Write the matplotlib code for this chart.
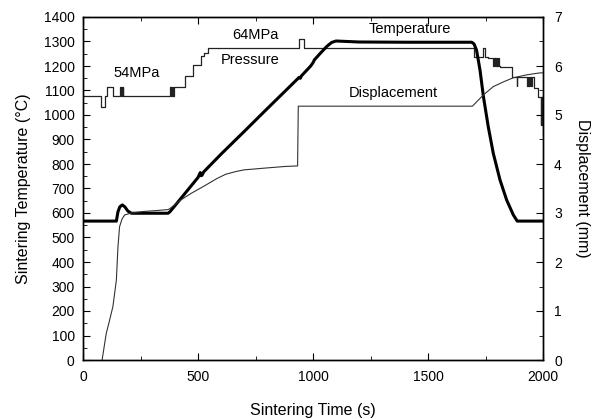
import matplotlib
matplotlib.use("Agg")
import matplotlib.pyplot as plt
from matplotlib.ticker import MultipleLocator

plt.rcParams['font.family'] = ['Liberation Sans', 'DejaVu Sans']

# Temperature (°C) vs time (s)
temp_t = [0, 145, 152, 160, 171, 182, 195, 210, 260, 320, 370, 378, 440, 500, 510, 514, 518, 525,
          600, 700, 800, 900, 940, 945, 950, 990, 1001, 1006, 1030, 1060, 1081, 1100, 1200, 1400, 1600, 1690,
          1700, 1711, 1726, 1741, 1762, 1784, 1813, 1842, 1871, 1888, 2000]
temp_v = [567, 567, 605, 625, 633, 625, 608, 599, 599, 599, 599, 605, 676, 745, 765, 752, 755, 768,
          840, 932, 1025, 1117, 1154, 1150, 1160, 1200, 1215, 1225, 1250, 1280, 1296, 1302, 1298, 1297, 1297, 1297,
          1290, 1265, 1184, 1075, 952, 843, 735, 653, 592, 567, 567]

# Displacement (mm) vs time (s)
disp_t = [83, 101, 115, 130, 145, 152, 159, 170, 181, 210, 260, 320, 370, 378, 420, 470, 523, 581, 620, 668,
          700, 750, 800, 880, 929, 933, 936, 1000, 1200, 1400, 1600, 1693, 1741, 1784, 1830, 1871, 1930, 1987, 2000]
disp_v = [0.0, 0.54, 0.80, 1.09, 1.63, 2.31, 2.72, 2.88, 2.96, 3.00, 3.03, 3.05, 3.07, 3.09, 3.25, 3.40, 3.54,
          3.70, 3.79, 3.85, 3.88, 3.90, 3.92, 3.95, 3.96, 3.96, 5.18, 5.18, 5.18, 5.18, 5.18, 5.18, 5.41, 5.58,
          5.68, 5.76, 5.82, 5.86, 5.86]

# Pressure trace: level (drawn on temperature scale) starting at each time
pres_t = [0, 77, 96, 106, 132, 161, 164, 167, 170, 173, 176, 179,
          378, 381, 384, 387, 390, 393, 397, 445, 480, 512, 525, 545, 940, 962,
          1700, 1720, 1741, 1746, 1762, 1784, 1787, 1790, 1793, 1796, 1799, 1802, 1805, 1808, 1813,
          1864, 1885, 1888, 1930, 1933, 1936, 1939, 1942, 1945, 1948, 1952,
          1960, 1980, 1990, 1992, 1994, 1996, 1998, 2000]
pres_v = [1078, 1034, 1078, 1113, 1078, 1113, 1078, 1113, 1078, 1113, 1078, 1078,
          1113, 1078, 1113, 1078, 1113, 1078, 1113, 1160, 1205, 1240, 1255, 1272, 1309, 1272,
          1238, 1238, 1272, 1238, 1231, 1200, 1231, 1200, 1231, 1200, 1231, 1200, 1231, 1200, 1197,
          1157, 1120, 1157, 1120, 1157, 1120, 1157, 1120, 1157, 1120, 1157,
          1110, 1075, 960, 1075, 960, 1075, 920, 920]

fig = plt.figure(figsize=(5.98, 4.19), dpi=100)
ax = fig.add_axes([83/598, 1 - 360/419, (543-83)/598, (360-17)/419])
ax2 = ax.twinx()

ax.plot(pres_t, pres_v, color='#222222', lw=0.9, drawstyle='steps-post')
ax.plot(temp_t, temp_v, color='black', lw=2.2, solid_joinstyle='round')
ax2.plot(disp_t, disp_v, color='#333333', lw=0.8)

ax.set_xlim(0, 2000)
ax.set_ylim(0, 1400)
ax2.set_ylim(0, 7)

ax.xaxis.set_major_locator(MultipleLocator(500))
ax.xaxis.set_minor_locator(MultipleLocator(250))
ax.yaxis.set_major_locator(MultipleLocator(100))
ax.yaxis.set_minor_locator(MultipleLocator(50))
ax2.yaxis.set_major_locator(MultipleLocator(1))
ax2.yaxis.set_minor_locator(MultipleLocator(0.5))

ax.tick_params(axis='x', which='both', direction='in', top=True, labelsize=10, pad=7)
ax.tick_params(axis='x', which='major', length=5)
ax.tick_params(axis='x', which='minor', length=3)
ax.tick_params(axis='y', which='major', direction='in', length=5, labelsize=10, pad=6)
ax.tick_params(axis='y', which='minor', direction='in', length=3)
ax2.tick_params(axis='y', which='major', direction='in', length=5, labelsize=10, pad=8)
ax2.tick_params(axis='y', which='minor', direction='in', length=3)

for a in (ax, ax2):
    for s in a.spines.values():
        s.set_linewidth(1.0)

ax.set_xlabel('Sintering Time (s)', fontsize=11.5, labelpad=14)
ax.set_ylabel('Sintering Temperature (°C)', fontsize=11.5, labelpad=9)
ax2.set_ylabel('Displacement (mm)', fontsize=11.5, rotation=270, labelpad=20)

ax.text(233, 1171, '54MPa', fontsize=10.5, ha='center', va='center')
ax.text(748, 1327, '64MPa', fontsize=10.5, ha='center', va='center')
ax.text(726, 1224, 'Pressure', fontsize=10.5, ha='center', va='center')
ax.text(1422, 1350, 'Temperature', fontsize=10.5, ha='center', va='center')
ax.text(1349, 1088, 'Displacement', fontsize=10.5, ha='center', va='center')

fig.savefig('out.png', dpi=100)
